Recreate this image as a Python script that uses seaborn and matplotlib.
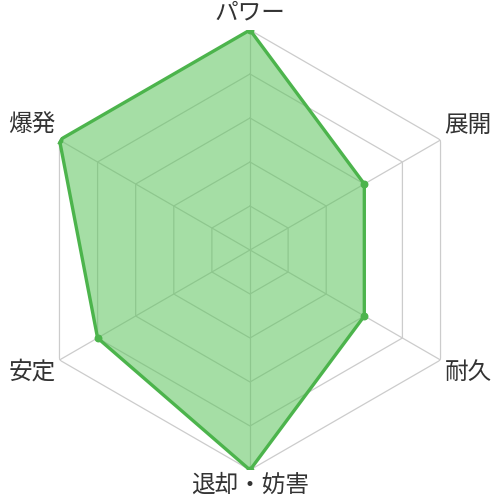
import numpy as np
import pandas as pd
import matplotlib
matplotlib.use("Agg")
import matplotlib.pyplot as plt
import seaborn as sns

categories = ["パワー", "展開", "耐久", "退却・妨害", "安定", "爆発"]
values = [5, 3, 3, 5, 4, 5]
levels = [1, 2, 3, 4, 5]
max_value = 5

sns.set_theme(style="white")
plt.rcParams['font.family'] = ['Noto Sans CJK JP', 'DejaVu Sans']

n = len(categories)
angles = np.arange(n) * 2 * np.pi / n
df = pd.DataFrame({"category": categories, "value": values, "angle": angles})

fig = plt.figure(figsize=(5, 5), dpi=100)
ax = fig.add_axes([0.06, 0.06, 0.88, 0.88], polar=True)
ax.set_theta_zero_location("N")
ax.set_theta_direction(-1)
ax.set_ylim(0, max_value)
ax.set_xticks([])
ax.set_yticks([])
ax.grid(False)
ax.spines['polar'].set_visible(False)
ax.set_facecolor('white')

grid_color = '#cccccc'
closed_ang = np.append(angles, angles[0])
for lv in levels:
    ax.plot(closed_ang, [lv] * (n + 1), color=grid_color, lw=0.9, zorder=1)
for a in angles:
    ax.plot([a, a], [0, max_value], color=grid_color, lw=0.9, zorder=1)

closed_vals = np.append(df["value"].values, df["value"].values[0])
ax.fill(closed_ang, closed_vals, color='#5cc45c', alpha=0.55, zorder=2, lw=0)
ax.plot(closed_ang, closed_vals, color='#4cb44c', lw=2.4, zorder=3)
ax.scatter(df["angle"], df["value"], color='#4cb44c', s=22, zorder=4)

txt = dict(fontsize=17, color='#333333')
ax.annotate(categories[0], xy=(angles[0], max_value), xytext=(0, 17),
            textcoords='offset pixels', ha='center', va='center', **txt)
ax.annotate(categories[1], xy=(angles[1], max_value), xytext=(4, 3),
            textcoords='offset pixels', ha='left', va='bottom', **txt)
ax.annotate(categories[2], xy=(angles[2], max_value), xytext=(4, -1),
            textcoords='offset pixels', ha='left', va='top', **txt)
ax.annotate(categories[3], xy=(angles[3], max_value), xytext=(0, -15),
            textcoords='offset pixels', ha='center', va='center', **txt)
ax.annotate(categories[4], xy=(angles[4], max_value), xytext=(-4, -1),
            textcoords='offset pixels', ha='right', va='top', **txt)
ax.annotate(categories[5], xy=(angles[5], max_value), xytext=(-4, 3),
            textcoords='offset pixels', ha='right', va='bottom', **txt)

fig.savefig("out.png", dpi=100, facecolor='white')
